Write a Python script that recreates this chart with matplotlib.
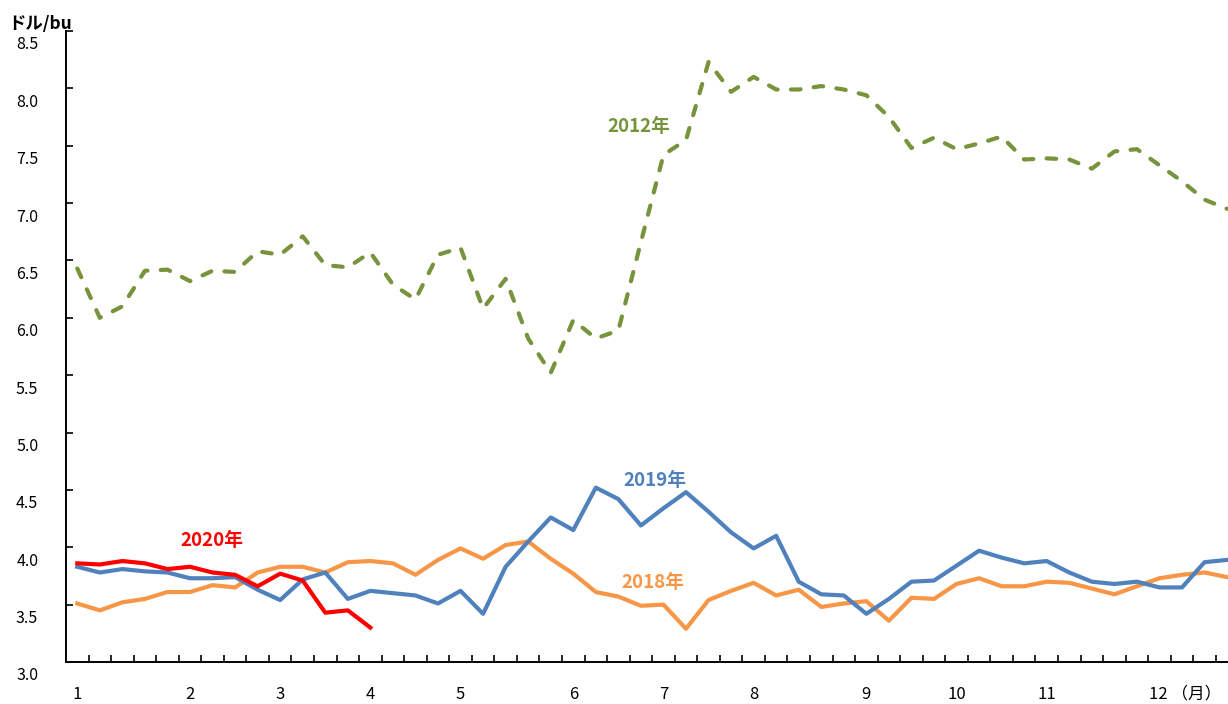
import matplotlib
matplotlib.use("Agg")
import matplotlib.pyplot as plt
import matplotlib.transforms as mtrans
import numpy as np

plt.rcParams["font.family"] = ["Noto Sans CJK JP", "DejaVu Sans"]

# weekly prices (ドル/bu), 52 weeks
y2012 = [6.43, 6.00, 6.10, 6.41, 6.42, 6.32, 6.41, 6.40, 6.58, 6.55,
         6.71, 6.46, 6.44, 6.57, 6.29, 6.16, 6.55, 6.61, 6.08, 6.34,
         5.82, 5.52, 5.98, 5.82, 5.89, 6.66, 7.42, 7.55, 8.23, 7.97,
         8.10, 7.99, 7.99, 8.02, 7.99, 7.94, 7.75, 7.48, 7.57, 7.47,
         7.52, 7.58, 7.38, 7.39, 7.38, 7.30, 7.45, 7.47, 7.33, 7.19,
         7.03, 6.95]
y2018 = [3.51, 3.45, 3.52, 3.55, 3.61, 3.61, 3.67, 3.65, 3.78, 3.83,
         3.83, 3.78, 3.87, 3.88, 3.86, 3.76, 3.89, 3.99, 3.90, 4.02,
         4.05, 3.90, 3.77, 3.61, 3.57, 3.49, 3.50, 3.29, 3.54, 3.62,
         3.69, 3.58, 3.63, 3.48, 3.51, 3.53, 3.36, 3.56, 3.55, 3.68,
         3.73, 3.66, 3.66, 3.70, 3.69, 3.64, 3.59, 3.66, 3.73, 3.76,
         3.78, 3.74]
y2019 = [3.83, 3.78, 3.81, 3.79, 3.78, 3.73, 3.73, 3.74, 3.63, 3.54,
         3.72, 3.78, 3.55, 3.62, 3.60, 3.58, 3.51, 3.62, 3.42, 3.83,
         4.05, 4.26, 4.15, 4.52, 4.42, 4.19, 4.34, 4.48, 4.31, 4.13,
         3.99, 4.10, 3.70, 3.59, 3.58, 3.42, 3.55, 3.70, 3.71, 3.84,
         3.97, 3.91, 3.86, 3.88, 3.78, 3.70, 3.68, 3.70, 3.65, 3.65,
         3.87, 3.89]
y2020 = [3.86, 3.85, 3.88, 3.86, 3.81, 3.83, 3.78, 3.76, 3.66, 3.77,
         3.71, 3.43, 3.45, 3.30]

month_labels = ["1", "2", "3", "4", "5", "6", "7", "8", "9", "10", "11", "12"]
month_weeks = [0, 5, 9, 13, 17, 22, 26, 30, 35, 39, 43, 48]

c2012 = "#77933C"
c2018 = "#F79646"
c2019 = "#4F81BD"
c2020 = "#FF0000"

fig = plt.figure(figsize=(12.28, 7.04), dpi=100)
ax = fig.add_axes([66 / 1228, 1 - 662 / 704, 1 - 66 / 1228, (662 - 31) / 704])

ax.plot(np.arange(len(y2012)), y2012, color=c2012, lw=3,
        dashes=(2.3, 3.2), dash_capstyle="round", clip_on=False)
ax.plot(np.arange(len(y2018)), y2018, color=c2018, lw=3)
ax.plot(np.arange(len(y2019)), y2019, color=c2019, lw=3)
ax.plot(np.arange(len(y2020)), y2020, color=c2020, lw=3)

ax.set_xlim(-0.5, 51.04)
ax.set_ylim(3.0, 8.5)

for s in ["top", "right"]:
    ax.spines[s].set_visible(False)
for s in ["left", "bottom"]:
    ax.spines[s].set_linewidth(1.4)
    ax.spines[s].set_color("black")

ax.set_xticks(np.arange(0.5, 51, 1.0))
ax.set_xticklabels([])
ax.tick_params(axis="x", direction="in", length=5, width=1.2)

yt = np.arange(3.0, 8.51, 0.5)
ax.set_yticks(yt)
ax.set_yticklabels([f"{v:.1f}" for v in yt], fontsize=11.5)
ax.tick_params(axis="y", direction="in", length=5, width=1.2, pad=20)
shift = mtrans.ScaledTranslation(0, -12 / 100, fig.dpi_scale_trans)
for lab in ax.get_yticklabels():
    lab.set_transform(lab.get_transform() + shift)

xt = mtrans.blended_transform_factory(ax.transData, ax.transAxes)
for w, m in zip(month_weeks, month_labels):
    if m == "12":
        ax.text(w - 0.45, -0.051, "12 （月）", transform=xt, ha="left",
                va="center", fontsize=12)
    else:
        ax.text(w, -0.051, m, transform=xt, ha="center", va="center",
                fontsize=12)

fig.text(8 / 1228, 1 - 24 / 704, "ドル/bu", ha="left", va="center",
         fontsize=12.5, fontweight="bold")

ax.text(24.93, 7.665, "2012年", color=c2012, fontsize=13.5, fontweight="bold",
        ha="center", va="center")
ax.text(25.6, 4.585, "2019年", color=c2019, fontsize=13.5, fontweight="bold",
        ha="center", va="center")
ax.text(25.55, 3.695, "2018年", color=c2018, fontsize=13.5, fontweight="bold",
        ha="center", va="center")
ax.text(5.97, 4.055, "2020年", color=c2020, fontsize=13.5, fontweight="bold",
        ha="center", va="center")

fig.savefig("out.png", dpi=100)
